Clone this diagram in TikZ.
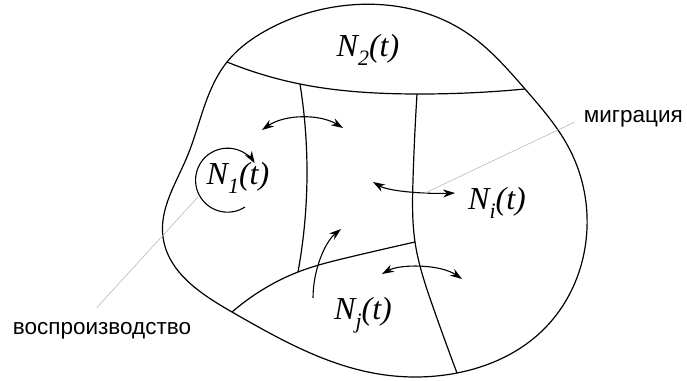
\documentclass[tikz,border=0pt]{standalone}
\usepackage{fontspec}
\setmainfont{Liberation Serif}
\setsansfont{Liberation Sans}
\usetikzlibrary{arrows.meta,hobby}

% label of a patch: N with lowered index
\newcommand{\patch}[1]{{\fontsize{32}{34}\selectfont\itshape N\raisebox{-0.27em}{\fontsize{22}{22}\selectfont #1}(t)}}

\tikzset{
  border/.style={line width=1.2pt,line join=round,use Hobby shortcut},
  twoway/.style={line width=1.1pt,{Stealth[length=12pt,width=8pt]}-{Stealth[length=12pt,width=8pt]}},
  oneway/.style={line width=1.1pt,-{Stealth[length=12pt,width=8pt]}},
  leader/.style={gray!55,line width=0.6pt},
  caption/.style={font=\sffamily\fontsize{22.5}{24}\selectfont,inner sep=0pt}
}

\begin{document}
\begin{tikzpicture}[x=1pt,y=-1pt]
\useasboundingbox (0,0) rectangle (687,380);

% corners where the inner borders meet the outline
\coordinate (tl) at (227,62);
\coordinate (tr) at (525,89);
\coordinate (bl) at (232,312);
\coordinate (br) at (457,373);
% inner junctions
\coordinate (a) at (300,84);
\coordinate (b) at (417,94);
\coordinate (c) at (298,272);
\coordinate (d) at (415,242);

% outline of the area
\draw[border,closed=true] (tl) .. (267,30) .. (350,5) .. (467,33) .. (tr)
  .. (570,150) .. (587,228) .. (543,330) .. (br) .. (373,373) .. (bl)
  .. (163,237) .. (187,157);

% inner borders
\draw[border] (tl) .. (a) .. (b) .. (tr);
\draw[border] (a) .. (307,170) .. (c);
\draw[border] (b) .. (413,180) .. (d) .. (433,307) .. (br);
\draw[border] (bl) .. (267,287) .. (c) .. (350,257) .. (d);

% patch labels
\node (n2) at (368,50) {\patch{2}};
\node (n1) at (238,178) {\patch{1}};
\node (ni) at (497,203) {\patch{i}};
\node (nj) at (363,315) {\patch{j}};

% reproduction loop
\coordinate (loopS) at (245,207);
\draw[oneway] (loopS) arc[start angle=-57,end angle=-328,radius=32pt];

% migration between patches
\coordinate (m1a) at (262,130);
\coordinate (m1b) at (343,128);
\coordinate (m2a) at (373,182);
\coordinate (m2b) at (455,193);
\coordinate (m3a) at (382,274);
\coordinate (m3b) at (462,279);
\coordinate (m4a) at (313,298);
\coordinate (m4b) at (341,229);
\draw[twoway] (m1a) .. controls (285,114) and (320,114) .. (m1b);
\draw[twoway] (m2a) .. controls (390,192) and (430,194) .. (m2b);
\draw[twoway] (m3a) .. controls (400,264) and (440,264) .. (m3b);
\draw[oneway] (m4a) .. controls (313,270) and (325,242) .. (m4b);

% captions with leader lines
\node[caption,anchor=east] (migr) at (683,119) {миграция};
\node[caption] (repr) at (102,331) {воспроизводство};
\coordinate (migEnd) at (423,194);
\coordinate (repEnd) at (198,197);
\draw[leader] ([xshift=-9pt,yshift=-3pt]migr.west) -- (migEnd);
\draw[leader] ([xshift=-5pt,yshift=15pt]repr.north) -- (repEnd);
\end{tikzpicture}
\end{document}
